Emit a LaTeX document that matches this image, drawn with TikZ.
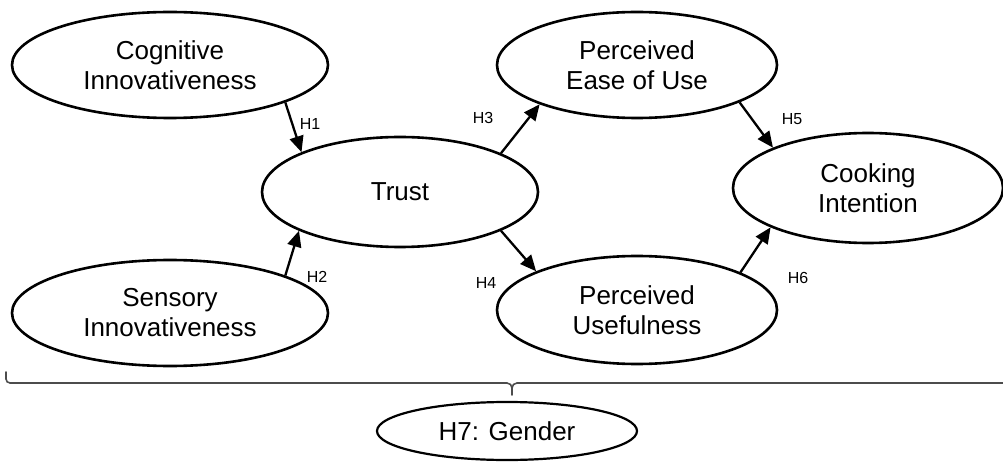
\documentclass[tikz,border=0pt]{standalone}
\usepackage{fontspec}
\setmainfont{Liberation Sans}
\usetikzlibrary{arrows.meta,shapes.geometric}
\begin{document}
\begin{tikzpicture}[x=1pt,y=-1pt,
  construct/.style={ellipse,draw,line width=2.6pt,inner sep=0pt,align=center,
    font=\fontsize{26}{30}\selectfont},
  path/.style={line width=2.3pt,-{Triangle[length=16pt,width=14pt]}},
  hyp/.style={inner sep=0pt,font=\fontsize{16}{18}\selectfont},
  brace/.style={line width=1.6pt,draw=black!70,line cap=round}]
\useasboundingbox (0,0) rectangle (1003,462);

% constructs
\node[construct,minimum width=316pt,minimum height=106pt] (ci) at (170,65) {Cognitive\\Innovativeness};
\node[construct,minimum width=316pt,minimum height=106pt] (si) at (170,313) {Sensory\\Innovativeness};
\node[construct,minimum width=276pt,minimum height=110pt] (tr) at (400,192) {Trust};
\node[construct,minimum width=280pt,minimum height=106pt] (eou) at (637,65) {Perceived\\Ease of Use};
\node[construct,minimum width=280pt,minimum height=108pt] (pu) at (637,310) {Perceived\\Usefulness};
\node[construct,minimum width=270pt,minimum height=110pt] (cint) at (868,188) {Cooking\\Intention};

% hypothesised paths
\draw[path] (ci.-18.7) -- (tr.158.3);
\draw[path] (si.18.1) -- (tr.201.7);
\draw[path] (tr.21.5) -- (eou.202);
\draw[path] (tr.-21.5) -- (pu.159.5);
\draw[path] (eou.-20.8) -- (cint.157.2);
\draw[path] (pu.20.7) -- (cint.202.8);

\node[hyp] (h1) at (310,124) {H1};
\node[hyp] (h2) at (317,277) {H2};
\node[hyp] (h3) at (483,118) {H3};
\node[hyp] (h4) at (486,283) {H4};
\node[hyp] (h5) at (792,119) {H5};
\node[hyp] (h6) at (798,278) {H6};

% moderator brace spanning the model
\coordinate (bl) at (6,372);
\coordinate (bm) at (512,395);
\coordinate (br) at (1006,383);
\draw[brace] (bl) -- (6,379) to[out=-90,in=180] (10,383)
  -- (507,383) to[out=0,in=90] (512,388) -- (bm);
\draw[brace] (512,388) to[out=90,in=180] (517,383) -- (br);

\node[construct,line width=2.2pt,minimum width=260pt,minimum height=58pt] (gd) at (507,431) {H7: Gender};
\end{tikzpicture}
\end{document}
